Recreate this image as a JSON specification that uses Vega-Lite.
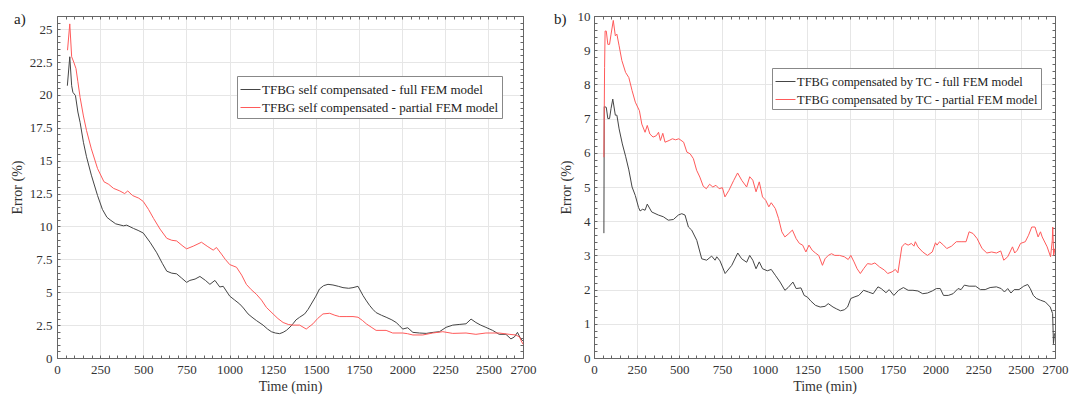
{
  "$schema": "https://vega.github.io/schema/vega-lite/v6.json",
  "background": "white",
  "padding": {"left": 10, "top": 10, "right": 2, "bottom": 2},
  "spacing": 18,
  "config": {
    "font": "Liberation Serif",
    "view": {"stroke": null},
    "axis": {
      "labelFont": "Liberation Serif", "titleFont": "Liberation Serif",
      "labelFontSize": 13, "titleFontSize": 14, "titleFontWeight": "normal",
      "labelColor": "#333", "titleColor": "#333",
      "domainColor": "#666", "tickColor": "#666", "gridColor": "#e6e6e6",
      "labelFlush": false, "labelOverlap": false
    },
    "legend": {
      "orient": "none", "title": null, "symbolType": "stroke", "symbolSize": 400,
      "symbolStrokeWidth": 1, "labelFont": "Liberation Serif", "labelFontSize": 13,
      "labelColor": "#222", "strokeColor": "#888", "fillColor": "white",
      "padding": 3, "labelOffset": 1, "labelLimit": 400
    },
    "title": {"font": "Liberation Serif", "fontSize": 15, "fontWeight": "normal", "color": "#222", "anchor": "start", "frame": "group", "offset": -14}
  },
  "datasets": {
    "a": [
      {"t":60,"err":20.7,"series":"full"},{"t":74,"err":22.9,"series":"full"},{"t":85,"err":20.7,"series":"full"},{"t":92,"err":20.2,"series":"full"},{"t":107,"err":19.95,"series":"full"},{"t":121,"err":18.7,"series":"full"},{"t":134,"err":17.9,"series":"full"},{"t":153,"err":16.4,"series":"full"},{"t":171,"err":15.3,"series":"full"},{"t":199,"err":13.9,"series":"full"},{"t":235,"err":12.35,"series":"full"},{"t":263,"err":11.3,"series":"full"},{"t":289,"err":10.7,"series":"full"},{"t":308,"err":10.5,"series":"full"},{"t":340,"err":10.2,"series":"full"},{"t":385,"err":10.05,"series":"full"},{"t":404,"err":10.1,"series":"full"},{"t":443,"err":9.85,"series":"full"},{"t":470,"err":9.7,"series":"full"},{"t":500,"err":9.5,"series":"full"},{"t":539,"err":8.8,"series":"full"},{"t":578,"err":8.0,"series":"full"},{"t":610,"err":7.2,"series":"full"},{"t":636,"err":6.6,"series":"full"},{"t":665,"err":6.45,"series":"full"},{"t":693,"err":6.4,"series":"full"},{"t":720,"err":6.1,"series":"full"},{"t":751,"err":5.75,"series":"full"},{"t":770,"err":5.9,"series":"full"},{"t":800,"err":6.0,"series":"full"},{"t":828,"err":6.2,"series":"full"},{"t":860,"err":5.9,"series":"full"},{"t":886,"err":5.6,"series":"full"},{"t":915,"err":5.9,"series":"full"},{"t":943,"err":5.4,"series":"full"},{"t":963,"err":5.45,"series":"full"},{"t":1001,"err":4.7,"series":"full"},{"t":1030,"err":4.4,"series":"full"},{"t":1059,"err":4.1,"series":"full"},{"t":1080,"err":3.8,"series":"full"},{"t":1107,"err":3.35,"series":"full"},{"t":1130,"err":3.1,"series":"full"},{"t":1155,"err":2.85,"series":"full"},{"t":1194,"err":2.5,"series":"full"},{"t":1220,"err":2.2,"series":"full"},{"t":1242,"err":2.0,"series":"full"},{"t":1265,"err":1.9,"series":"full"},{"t":1290,"err":1.85,"series":"full"},{"t":1310,"err":1.95,"series":"full"},{"t":1329,"err":2.1,"series":"full"},{"t":1350,"err":2.35,"series":"full"},{"t":1367,"err":2.6,"series":"full"},{"t":1385,"err":2.9,"series":"full"},{"t":1406,"err":3.1,"series":"full"},{"t":1435,"err":3.35,"series":"full"},{"t":1455,"err":3.7,"series":"full"},{"t":1473,"err":4.1,"series":"full"},{"t":1500,"err":4.7,"series":"full"},{"t":1521,"err":5.25,"series":"full"},{"t":1545,"err":5.5,"series":"full"},{"t":1570,"err":5.6,"series":"full"},{"t":1599,"err":5.55,"series":"full"},{"t":1630,"err":5.45,"series":"full"},{"t":1657,"err":5.35,"series":"full"},{"t":1690,"err":5.3,"series":"full"},{"t":1715,"err":5.35,"series":"full"},{"t":1744,"err":5.45,"series":"full"},{"t":1773,"err":4.75,"series":"full"},{"t":1790,"err":4.4,"series":"full"},{"t":1811,"err":4.0,"series":"full"},{"t":1830,"err":3.7,"series":"full"},{"t":1849,"err":3.45,"series":"full"},{"t":1880,"err":3.25,"series":"full"},{"t":1907,"err":3.1,"series":"full"},{"t":1940,"err":2.9,"series":"full"},{"t":1965,"err":2.7,"series":"full"},{"t":1985,"err":2.45,"series":"full"},{"t":2003,"err":2.2,"series":"full"},{"t":2032,"err":2.3,"series":"full"},{"t":2062,"err":1.95,"series":"full"},{"t":2100,"err":1.9,"series":"full"},{"t":2139,"err":1.87,"series":"full"},{"t":2180,"err":1.95,"series":"full"},{"t":2216,"err":2.0,"series":"full"},{"t":2254,"err":2.33,"series":"full"},{"t":2293,"err":2.5,"series":"full"},{"t":2330,"err":2.55,"series":"full"},{"t":2370,"err":2.6,"series":"full"},{"t":2399,"err":2.96,"series":"full"},{"t":2427,"err":2.7,"series":"full"},{"t":2455,"err":2.5,"series":"full"},{"t":2485,"err":2.33,"series":"full"},{"t":2524,"err":2.1,"series":"full"},{"t":2562,"err":1.8,"series":"full"},{"t":2601,"err":1.8,"series":"full"},{"t":2630,"err":1.45,"series":"full"},{"t":2650,"err":1.6,"series":"full"},{"t":2668,"err":1.95,"series":"full"},{"t":2687,"err":1.45,"series":"full"},{"t":2700,"err":1.3,"series":"full"},
      {"t":61,"err":23.4,"series":"partial"},{"t":74,"err":25.4,"series":"partial"},{"t":85,"err":22.9,"series":"partial"},{"t":97,"err":22.5,"series":"partial"},{"t":110,"err":22.0,"series":"partial"},{"t":121,"err":21.0,"series":"partial"},{"t":134,"err":19.8,"series":"partial"},{"t":153,"err":18.4,"series":"partial"},{"t":171,"err":17.3,"series":"partial"},{"t":199,"err":15.9,"series":"partial"},{"t":235,"err":14.4,"series":"partial"},{"t":272,"err":13.4,"series":"partial"},{"t":300,"err":13.2,"series":"partial"},{"t":327,"err":12.9,"series":"partial"},{"t":364,"err":12.7,"series":"partial"},{"t":392,"err":12.5,"series":"partial"},{"t":410,"err":12.7,"series":"partial"},{"t":438,"err":12.35,"series":"partial"},{"t":474,"err":12.15,"series":"partial"},{"t":500,"err":11.9,"series":"partial"},{"t":530,"err":11.3,"series":"partial"},{"t":560,"err":10.6,"series":"partial"},{"t":597,"err":9.8,"series":"partial"},{"t":636,"err":9.1,"series":"partial"},{"t":665,"err":8.95,"series":"partial"},{"t":693,"err":8.9,"series":"partial"},{"t":730,"err":8.5,"series":"partial"},{"t":751,"err":8.3,"series":"partial"},{"t":789,"err":8.5,"series":"partial"},{"t":837,"err":8.8,"series":"partial"},{"t":870,"err":8.5,"series":"partial"},{"t":905,"err":8.2,"series":"partial"},{"t":924,"err":8.4,"series":"partial"},{"t":953,"err":7.9,"series":"partial"},{"t":975,"err":7.5,"series":"partial"},{"t":1001,"err":7.1,"series":"partial"},{"t":1040,"err":6.9,"series":"partial"},{"t":1070,"err":6.3,"series":"partial"},{"t":1097,"err":5.6,"series":"partial"},{"t":1125,"err":5.2,"series":"partial"},{"t":1155,"err":4.85,"series":"partial"},{"t":1185,"err":4.4,"series":"partial"},{"t":1213,"err":3.85,"series":"partial"},{"t":1252,"err":3.35,"series":"partial"},{"t":1280,"err":3.0,"series":"partial"},{"t":1310,"err":2.7,"series":"partial"},{"t":1340,"err":2.55,"series":"partial"},{"t":1367,"err":2.5,"series":"partial"},{"t":1406,"err":2.5,"series":"partial"},{"t":1444,"err":2.2,"series":"partial"},{"t":1483,"err":2.6,"series":"partial"},{"t":1510,"err":3.0,"series":"partial"},{"t":1541,"err":3.35,"series":"partial"},{"t":1580,"err":3.4,"series":"partial"},{"t":1610,"err":3.25,"series":"partial"},{"t":1637,"err":3.15,"series":"partial"},{"t":1680,"err":3.15,"series":"partial"},{"t":1715,"err":3.15,"series":"partial"},{"t":1744,"err":3.1,"series":"partial"},{"t":1770,"err":2.85,"series":"partial"},{"t":1792,"err":2.6,"series":"partial"},{"t":1820,"err":2.35,"series":"partial"},{"t":1849,"err":2.1,"series":"partial"},{"t":1907,"err":2.1,"series":"partial"},{"t":1945,"err":1.9,"series":"partial"},{"t":2003,"err":1.9,"series":"partial"},{"t":2030,"err":1.85,"series":"partial"},{"t":2062,"err":1.75,"series":"partial"},{"t":2119,"err":1.75,"series":"partial"},{"t":2177,"err":1.9,"series":"partial"},{"t":2235,"err":2.0,"series":"partial"},{"t":2293,"err":1.87,"series":"partial"},{"t":2370,"err":1.9,"series":"partial"},{"t":2427,"err":1.8,"series":"partial"},{"t":2485,"err":1.9,"series":"partial"},{"t":2562,"err":1.9,"series":"partial"},{"t":2620,"err":1.8,"series":"partial"},{"t":2658,"err":1.75,"series":"partial"},{"t":2680,"err":1.6,"series":"partial"},{"t":2690,"err":1.3,"series":"partial"},{"t":2700,"err":1.05,"series":"partial"}
    ],
    "b": [
      {"t":58,"err":3.65,"series":"full"},{"t":60,"err":7.35,"series":"full"},{"t":72,"err":7.33,"series":"full"},{"t":81,"err":7.0,"series":"full"},{"t":91,"err":7.0,"series":"full"},{"t":100,"err":7.3,"series":"full"},{"t":110,"err":7.57,"series":"full"},{"t":125,"err":7.1,"series":"full"},{"t":134,"err":7.1,"series":"full"},{"t":147,"err":6.7,"series":"full"},{"t":166,"err":6.26,"series":"full"},{"t":185,"err":5.9,"series":"full"},{"t":204,"err":5.5,"series":"full"},{"t":223,"err":5.0,"series":"full"},{"t":242,"err":4.75,"series":"full"},{"t":261,"err":4.4,"series":"full"},{"t":270,"err":4.3,"series":"full"},{"t":285,"err":4.35,"series":"full"},{"t":299,"err":4.32,"series":"full"},{"t":312,"err":4.5,"series":"full"},{"t":338,"err":4.27,"series":"full"},{"t":377,"err":4.18,"series":"full"},{"t":406,"err":4.13,"series":"full"},{"t":435,"err":4.03,"series":"full"},{"t":465,"err":4.05,"series":"full"},{"t":494,"err":4.18,"series":"full"},{"t":514,"err":4.22,"series":"full"},{"t":533,"err":4.18,"series":"full"},{"t":553,"err":3.83,"series":"full"},{"t":572,"err":3.74,"series":"full"},{"t":602,"err":3.44,"series":"full"},{"t":631,"err":2.9,"series":"full"},{"t":660,"err":2.86,"series":"full"},{"t":689,"err":2.98,"series":"full"},{"t":709,"err":2.86,"series":"full"},{"t":719,"err":2.96,"series":"full"},{"t":738,"err":2.84,"series":"full"},{"t":768,"err":2.47,"series":"full"},{"t":807,"err":2.71,"series":"full"},{"t":842,"err":3.07,"series":"full"},{"t":865,"err":2.9,"series":"full"},{"t":894,"err":2.8,"series":"full"},{"t":912,"err":3.0,"series":"full"},{"t":930,"err":2.86,"series":"full"},{"t":949,"err":2.61,"series":"full"},{"t":968,"err":2.81,"series":"full"},{"t":987,"err":2.61,"series":"full"},{"t":1015,"err":2.55,"series":"full"},{"t":1038,"err":2.59,"series":"full"},{"t":1062,"err":2.42,"series":"full"},{"t":1090,"err":2.22,"series":"full"},{"t":1118,"err":1.98,"series":"full"},{"t":1137,"err":2.06,"series":"full"},{"t":1165,"err":2.22,"series":"full"},{"t":1184,"err":2.03,"series":"full"},{"t":1212,"err":2.05,"series":"full"},{"t":1231,"err":1.83,"series":"full"},{"t":1250,"err":1.78,"series":"full"},{"t":1269,"err":1.67,"series":"full"},{"t":1297,"err":1.54,"series":"full"},{"t":1325,"err":1.49,"series":"full"},{"t":1353,"err":1.51,"series":"full"},{"t":1372,"err":1.59,"series":"full"},{"t":1400,"err":1.49,"series":"full"},{"t":1419,"err":1.44,"series":"full"},{"t":1444,"err":1.38,"series":"full"},{"t":1466,"err":1.41,"series":"full"},{"t":1485,"err":1.49,"series":"full"},{"t":1504,"err":1.74,"series":"full"},{"t":1523,"err":1.78,"series":"full"},{"t":1551,"err":1.83,"series":"full"},{"t":1579,"err":1.98,"series":"full"},{"t":1607,"err":1.93,"series":"full"},{"t":1635,"err":1.88,"series":"full"},{"t":1663,"err":2.08,"series":"full"},{"t":1682,"err":2.03,"series":"full"},{"t":1710,"err":1.91,"series":"full"},{"t":1729,"err":2.0,"series":"full"},{"t":1756,"err":1.83,"series":"full"},{"t":1784,"err":1.98,"series":"full"},{"t":1812,"err":2.06,"series":"full"},{"t":1840,"err":1.98,"series":"full"},{"t":1868,"err":1.98,"series":"full"},{"t":1897,"err":1.96,"series":"full"},{"t":1925,"err":1.88,"series":"full"},{"t":1953,"err":1.9,"series":"full"},{"t":1981,"err":1.96,"series":"full"},{"t":2005,"err":2.03,"series":"full"},{"t":2028,"err":2.03,"series":"full"},{"t":2047,"err":1.83,"series":"full"},{"t":2075,"err":1.83,"series":"full"},{"t":2103,"err":1.88,"series":"full"},{"t":2132,"err":2.03,"series":"full"},{"t":2150,"err":2.0,"series":"full"},{"t":2169,"err":2.13,"series":"full"},{"t":2197,"err":2.1,"series":"full"},{"t":2235,"err":2.1,"series":"full"},{"t":2263,"err":2.0,"series":"full"},{"t":2291,"err":2.0,"series":"full"},{"t":2320,"err":2.06,"series":"full"},{"t":2357,"err":2.08,"series":"full"},{"t":2385,"err":2.03,"series":"full"},{"t":2404,"err":1.93,"series":"full"},{"t":2423,"err":2.03,"series":"full"},{"t":2442,"err":1.9,"series":"full"},{"t":2461,"err":2.0,"series":"full"},{"t":2489,"err":2.0,"series":"full"},{"t":2517,"err":2.1,"series":"full"},{"t":2540,"err":2.15,"series":"full"},{"t":2555,"err":2.03,"series":"full"},{"t":2573,"err":1.83,"series":"full"},{"t":2592,"err":1.74,"series":"full"},{"t":2615,"err":1.69,"series":"full"},{"t":2643,"err":1.64,"series":"full"},{"t":2672,"err":1.49,"series":"full"},{"t":2686,"err":1.3,"series":"full"},{"t":2691,"err":0.42,"series":"full"},{"t":2697,"err":0.72,"series":"full"},
      {"t":58,"err":5.87,"series":"partial"},{"t":62,"err":8.5,"series":"partial"},{"t":65,"err":9.56,"series":"partial"},{"t":72,"err":9.56,"series":"partial"},{"t":81,"err":9.17,"series":"partial"},{"t":91,"err":9.17,"series":"partial"},{"t":100,"err":9.47,"series":"partial"},{"t":113,"err":9.87,"series":"partial"},{"t":125,"err":9.42,"series":"partial"},{"t":134,"err":9.47,"series":"partial"},{"t":147,"err":9.13,"series":"partial"},{"t":163,"err":8.7,"series":"partial"},{"t":185,"err":8.35,"series":"partial"},{"t":204,"err":8.2,"series":"partial"},{"t":223,"err":7.82,"series":"partial"},{"t":242,"err":7.48,"series":"partial"},{"t":266,"err":7.23,"series":"partial"},{"t":280,"err":6.84,"series":"partial"},{"t":299,"err":6.6,"series":"partial"},{"t":312,"err":6.8,"series":"partial"},{"t":327,"err":6.55,"series":"partial"},{"t":346,"err":6.46,"series":"partial"},{"t":365,"err":6.5,"series":"partial"},{"t":378,"err":6.6,"series":"partial"},{"t":389,"err":6.36,"series":"partial"},{"t":403,"err":6.57,"series":"partial"},{"t":416,"err":6.31,"series":"partial"},{"t":440,"err":6.36,"series":"partial"},{"t":459,"err":6.41,"series":"partial"},{"t":478,"err":6.38,"series":"partial"},{"t":497,"err":6.41,"series":"partial"},{"t":525,"err":6.31,"series":"partial"},{"t":544,"err":6.02,"series":"partial"},{"t":563,"err":5.97,"series":"partial"},{"t":582,"err":5.83,"series":"partial"},{"t":601,"err":5.49,"series":"partial"},{"t":620,"err":5.29,"series":"partial"},{"t":640,"err":5.02,"series":"partial"},{"t":658,"err":4.95,"series":"partial"},{"t":677,"err":5.08,"series":"partial"},{"t":696,"err":5.0,"series":"partial"},{"t":714,"err":5.05,"series":"partial"},{"t":733,"err":4.95,"series":"partial"},{"t":752,"err":4.98,"series":"partial"},{"t":767,"err":4.71,"series":"partial"},{"t":790,"err":4.9,"series":"partial"},{"t":818,"err":5.19,"series":"partial"},{"t":841,"err":5.41,"series":"partial"},{"t":866,"err":5.19,"series":"partial"},{"t":894,"err":5.0,"series":"partial"},{"t":912,"err":5.3,"series":"partial"},{"t":930,"err":5.2,"series":"partial"},{"t":949,"err":4.86,"series":"partial"},{"t":968,"err":5.15,"series":"partial"},{"t":987,"err":4.71,"series":"partial"},{"t":1006,"err":4.61,"series":"partial"},{"t":1024,"err":4.42,"series":"partial"},{"t":1038,"err":4.54,"series":"partial"},{"t":1062,"err":4.37,"series":"partial"},{"t":1081,"err":4.08,"series":"partial"},{"t":1100,"err":3.69,"series":"partial"},{"t":1118,"err":3.54,"series":"partial"},{"t":1137,"err":3.62,"series":"partial"},{"t":1162,"err":3.74,"series":"partial"},{"t":1184,"err":3.49,"series":"partial"},{"t":1203,"err":3.35,"series":"partial"},{"t":1222,"err":3.3,"series":"partial"},{"t":1241,"err":3.1,"series":"partial"},{"t":1259,"err":3.3,"series":"partial"},{"t":1278,"err":3.15,"series":"partial"},{"t":1297,"err":3.07,"series":"partial"},{"t":1316,"err":3.0,"series":"partial"},{"t":1338,"err":2.71,"series":"partial"},{"t":1353,"err":2.9,"series":"partial"},{"t":1372,"err":3.0,"series":"partial"},{"t":1391,"err":3.05,"series":"partial"},{"t":1410,"err":3.0,"series":"partial"},{"t":1438,"err":3.0,"series":"partial"},{"t":1466,"err":2.96,"series":"partial"},{"t":1489,"err":2.88,"series":"partial"},{"t":1504,"err":3.0,"series":"partial"},{"t":1523,"err":2.81,"series":"partial"},{"t":1541,"err":2.61,"series":"partial"},{"t":1560,"err":2.47,"series":"partial"},{"t":1579,"err":2.61,"series":"partial"},{"t":1602,"err":2.76,"series":"partial"},{"t":1626,"err":2.74,"series":"partial"},{"t":1645,"err":2.78,"series":"partial"},{"t":1673,"err":2.66,"series":"partial"},{"t":1701,"err":2.57,"series":"partial"},{"t":1720,"err":2.47,"series":"partial"},{"t":1746,"err":2.52,"series":"partial"},{"t":1765,"err":2.59,"series":"partial"},{"t":1780,"err":2.49,"series":"partial"},{"t":1803,"err":3.25,"series":"partial"},{"t":1821,"err":3.35,"series":"partial"},{"t":1840,"err":3.3,"series":"partial"},{"t":1859,"err":3.35,"series":"partial"},{"t":1874,"err":3.27,"series":"partial"},{"t":1882,"err":3.4,"series":"partial"},{"t":1897,"err":3.25,"series":"partial"},{"t":1925,"err":3.1,"series":"partial"},{"t":1953,"err":3.0,"series":"partial"},{"t":1981,"err":3.1,"series":"partial"},{"t":2000,"err":3.37,"series":"partial"},{"t":2009,"err":3.3,"series":"partial"},{"t":2024,"err":3.4,"series":"partial"},{"t":2047,"err":3.3,"series":"partial"},{"t":2066,"err":3.2,"series":"partial"},{"t":2094,"err":3.27,"series":"partial"},{"t":2122,"err":3.4,"series":"partial"},{"t":2150,"err":3.4,"series":"partial"},{"t":2179,"err":3.4,"series":"partial"},{"t":2197,"err":3.69,"series":"partial"},{"t":2220,"err":3.64,"series":"partial"},{"t":2244,"err":3.49,"series":"partial"},{"t":2273,"err":3.2,"series":"partial"},{"t":2301,"err":3.07,"series":"partial"},{"t":2329,"err":3.1,"series":"partial"},{"t":2357,"err":3.07,"series":"partial"},{"t":2382,"err":3.13,"series":"partial"},{"t":2400,"err":2.86,"series":"partial"},{"t":2423,"err":2.96,"series":"partial"},{"t":2451,"err":3.25,"series":"partial"},{"t":2464,"err":3.07,"series":"partial"},{"t":2479,"err":3.15,"series":"partial"},{"t":2498,"err":3.35,"series":"partial"},{"t":2526,"err":3.4,"series":"partial"},{"t":2545,"err":3.59,"series":"partial"},{"t":2564,"err":3.83,"series":"partial"},{"t":2583,"err":3.83,"series":"partial"},{"t":2601,"err":3.54,"series":"partial"},{"t":2615,"err":3.69,"series":"partial"},{"t":2625,"err":3.54,"series":"partial"},{"t":2654,"err":3.25,"series":"partial"},{"t":2674,"err":2.96,"series":"partial"},{"t":2684,"err":3.44,"series":"partial"},{"t":2687,"err":3.83,"series":"partial"},{"t":2692,"err":3.0,"series":"partial"},{"t":2700,"err":3.2,"series":"partial"}
    ]
  },
  "hconcat": [
    {
      "width": 466, "height": 342,
      "title": {"text": "a)", "dx": -43, "dy": 3},
      "data": {"name": "a"},
      "layer": [
        {
          "mark": {"type": "line", "strokeWidth": 1},
          "encoding": {
            "x": {"field": "t", "type": "quantitative", "scale": {"domain": [0, 2700], "nice": false},
              "axis": {"title": "Time (min)", "format": "d", "tickSize": -3, "labelPadding": 8, "titlePadding": 3,
                "values": [0,50,100,150,200,250,300,350,400,450,500,550,600,650,700,750,800,850,900,950,1000,1050,1100,1150,1200,1250,1300,1350,1400,1450,1500,1550,1600,1650,1700,1750,1800,1850,1900,1950,2000,2050,2100,2150,2200,2250,2300,2350,2400,2450,2500,2550,2600,2650,2700],
                "labelExpr": "(datum.value % 250 === 0 || datum.value === 2700) ? datum.label : ''",
                "gridOpacity": {"condition": {"test": "datum.value % 250 === 0", "value": 1}, "value": 0}}},
            "y": {"field": "err", "type": "quantitative", "scale": {"domain": [0, 26], "nice": false},
              "axis": {"title": "Error (%)", "format": "~g", "tickSize": -3, "labelPadding": 8, "titlePadding": 5,
                "values": [0,0.5,1,1.5,2,2.5,3,3.5,4,4.5,5,5.5,6,6.5,7,7.5,8,8.5,9,9.5,10,10.5,11,11.5,12,12.5,13,13.5,14,14.5,15,15.5,16,16.5,17,17.5,18,18.5,19,19.5,20,20.5,21,21.5,22,22.5,23,23.5,24,24.5,25,25.5,26],
                "labelExpr": "datum.value % 2.5 === 0 ? datum.label : ''",
                "gridOpacity": {"condition": {"test": "datum.value % 2.5 === 0", "value": 1}, "value": 0}}},
            "color": {"field": "series", "type": "nominal",
              "scale": {"domain": ["full", "partial"], "range": ["#454545", "#ff5a5a"]},
              "legend": {"legendX": 180, "legendY": 60, "rowPadding": -5,
                "labelExpr": "datum.label === 'full' ? 'TFBG self compensated - full FEM model' : 'TFBG self compensated - partial FEM model'"}}
          }
        },
        {
          "mark": {"type": "line", "opacity": 0},
          "encoding": {
            "x": {"field": "t", "type": "quantitative", "scale": {"domain": [0, 2700], "nice": false},
              "axis": {"orient": "top", "title": null, "labels": false, "grid": false, "tickSize": -3,
                "values": [0,50,100,150,200,250,300,350,400,450,500,550,600,650,700,750,800,850,900,950,1000,1050,1100,1150,1200,1250,1300,1350,1400,1450,1500,1550,1600,1650,1700,1750,1800,1850,1900,1950,2000,2050,2100,2150,2200,2250,2300,2350,2400,2450,2500,2550,2600,2650,2700]}},
            "y": {"field": "err", "type": "quantitative", "scale": {"domain": [0, 26], "nice": false},
              "axis": {"orient": "right", "title": null, "labels": false, "grid": false, "tickSize": -3,
                "values": [0,0.5,1,1.5,2,2.5,3,3.5,4,4.5,5,5.5,6,6.5,7,7.5,8,8.5,9,9.5,10,10.5,11,11.5,12,12.5,13,13.5,14,14.5,15,15.5,16,16.5,17,17.5,18,18.5,19,19.5,20,20.5,21,21.5,22,22.5,23,23.5,24,24.5,25,25.5,26]}},
            "detail": {"field": "series"}
          }
        }
      ],
      "resolve": {"scale": {"x": "independent", "y": "independent"}}
    },
    {
      "width": 461, "height": 342,
      "title": {"text": "b)", "dx": -40, "dy": 3},
      "data": {"name": "b"},
      "layer": [
        {
          "mark": {"type": "line", "strokeWidth": 1},
          "encoding": {
            "x": {"field": "t", "type": "quantitative", "scale": {"domain": [0, 2700], "nice": false},
              "axis": {"title": "Time (min)", "format": "d", "tickSize": -3, "labelPadding": 8, "titlePadding": 3,
                "values": [0,50,100,150,200,250,300,350,400,450,500,550,600,650,700,750,800,850,900,950,1000,1050,1100,1150,1200,1250,1300,1350,1400,1450,1500,1550,1600,1650,1700,1750,1800,1850,1900,1950,2000,2050,2100,2150,2200,2250,2300,2350,2400,2450,2500,2550,2600,2650,2700],
                "labelExpr": "(datum.value % 250 === 0 || datum.value === 2700) ? datum.label : ''",
                "gridOpacity": {"condition": {"test": "datum.value % 250 === 0", "value": 1}, "value": 0}}},
            "y": {"field": "err", "type": "quantitative", "scale": {"domain": [0, 10], "nice": false},
              "axis": {"title": "Error (%)", "format": "~g", "tickSize": -3, "labelPadding": 7, "titlePadding": 4,
                "values": [0,0.2,0.4,0.6,0.8,1,1.2,1.4,1.6,1.8,2,2.2,2.4,2.6,2.8,3,3.2,3.4,3.6,3.8,4,4.2,4.4,4.6,4.8,5,5.2,5.4,5.6,5.8,6,6.2,6.4,6.6,6.8,7,7.2,7.4,7.6,7.8,8,8.2,8.4,8.6,8.8,9,9.2,9.4,9.6,9.8,10],
                "labelExpr": "datum.value % 1 === 0 ? datum.label : ''",
                "gridOpacity": {"condition": {"test": "datum.value % 1 === 0", "value": 1}, "value": 0}}},
            "color": {"field": "series", "type": "nominal",
              "scale": {"domain": ["full", "partial"], "range": ["#454545", "#ff5a5a"]},
              "legend": {"legendX": 178, "legendY": 52, "rowPadding": 1, "labelFontSize": 12.5,
                "labelExpr": "datum.label === 'full' ? 'TFBG compensated by TC - full FEM model' : 'TFBG compensated by TC - partial FEM model'"}}
          }
        },
        {
          "mark": {"type": "line", "opacity": 0},
          "encoding": {
            "x": {"field": "t", "type": "quantitative", "scale": {"domain": [0, 2700], "nice": false},
              "axis": {"orient": "top", "title": null, "labels": false, "grid": false, "tickSize": -3,
                "values": [0,50,100,150,200,250,300,350,400,450,500,550,600,650,700,750,800,850,900,950,1000,1050,1100,1150,1200,1250,1300,1350,1400,1450,1500,1550,1600,1650,1700,1750,1800,1850,1900,1950,2000,2050,2100,2150,2200,2250,2300,2350,2400,2450,2500,2550,2600,2650,2700]}},
            "y": {"field": "err", "type": "quantitative", "scale": {"domain": [0, 10], "nice": false},
              "axis": {"orient": "right", "title": null, "labels": false, "grid": false, "tickSize": -3,
                "values": [0,0.2,0.4,0.6,0.8,1,1.2,1.4,1.6,1.8,2,2.2,2.4,2.6,2.8,3,3.2,3.4,3.6,3.8,4,4.2,4.4,4.6,4.8,5,5.2,5.4,5.6,5.8,6,6.2,6.4,6.6,6.8,7,7.2,7.4,7.6,7.8,8,8.2,8.4,8.6,8.8,9,9.2,9.4,9.6,9.8,10]}},
            "detail": {"field": "series"}
          }
        }
      ],
      "resolve": {"scale": {"x": "independent", "y": "independent"}}
    }
  ],
  "resolve": {"scale": {"color": "independent"}, "legend": {"color": "independent"}}
}
